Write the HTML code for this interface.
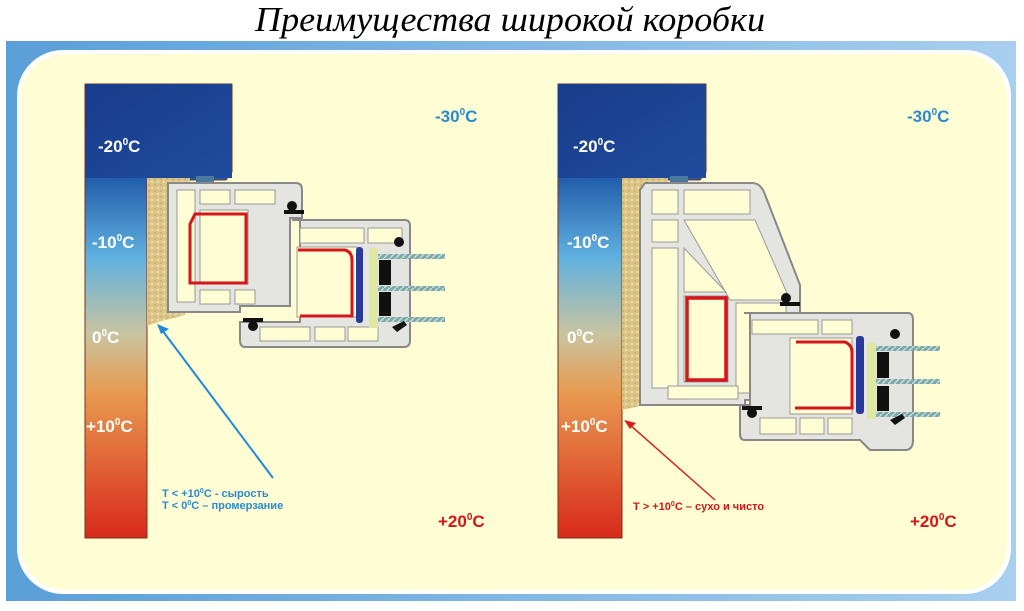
<!DOCTYPE html>
<html><head><meta charset="utf-8"><style>
html,body{margin:0;padding:0;background:#fff;width:1024px;height:611px;overflow:hidden}
svg{display:block}
.t{font-family:"Liberation Sans",sans-serif;font-weight:bold}
</style></head><body>
<svg width="1024" height="611" viewBox="0 0 1024 611" xmlns="http://www.w3.org/2000/svg">
<defs>
<linearGradient id="wall" x1="0" y1="0" x2="0" y2="1">
<stop offset="0" stop-color="#1a3a8a"/>
<stop offset="0.2" stop-color="#1f5aa8"/>
<stop offset="0.38" stop-color="#5fb0e0"/>
<stop offset="0.55" stop-color="#c8c4a0"/>
<stop offset="0.68" stop-color="#e89a50"/>
<stop offset="1" stop-color="#d82a1a"/>
</linearGradient>
<linearGradient id="top" x1="0" y1="0" x2="1" y2="1">
<stop offset="0" stop-color="#1a3c8c"/><stop offset="1" stop-color="#1e4c9c"/>
</linearGradient>
<linearGradient id="bg" x1="0" y1="0" x2="1" y2="0">
<stop offset="0" stop-color="#5a9fd8"/><stop offset="1" stop-color="#a8cfee"/>
</linearGradient>
<pattern id="foam" width="6" height="6" patternUnits="userSpaceOnUse">
<rect width="6" height="6" fill="#dcc488"/><circle cx="2" cy="2" r="1.2" fill="#ecdcaa"/><circle cx="5" cy="5" r="0.9" fill="#c4a860"/>
</pattern>
<pattern id="glass" width="6" height="6" patternUnits="userSpaceOnUse">
<rect width="6" height="6" fill="#7fa8a8"/><path d="M0 6L6 0" stroke="#c8e0e0" stroke-width="1.5"/>
</pattern>
</defs>
<text x="255" y="31" textLength="510" lengthAdjust="spacingAndGlyphs" font-family="Liberation Serif,serif" font-style="italic" font-size="35" fill="#000">Преимущества широкой коробки</text>
<rect x="6" y="41" width="1010" height="560" fill="url(#bg)"/>
<rect x="17" y="50" width="994" height="544" rx="46" fill="#fff"/>
<rect x="21" y="54" width="986" height="536" rx="44" fill="#fffdd4"/>

<!-- LEFT -->
<g>
<path d="M85 84H232V172L226 180H147V538H85Z" fill="url(#wall)" stroke="#7a3020" stroke-width="1"/>
<rect x="85" y="84" width="147" height="94" fill="url(#top)"/>
<path d="M147 178H190L185 315L158 322L147 326Z" fill="url(#foam)"/>
<rect x="196" y="176" width="18" height="8" fill="#4a7aa0"/>
<path d="M168 183H296Q302 183 302 190V218H290V306H240V312H168Z" fill="#e4e4e0" stroke="#888" stroke-width="2"/>
<rect x="177" y="190" width="18" height="112" fill="#fffdd4" stroke="#999"/>
<rect x="200" y="190" width="30" height="14" fill="#fffdd4" stroke="#999"/>
<rect x="235" y="190" width="40" height="14" fill="#fffdd4" stroke="#999"/>
<rect x="200" y="290" width="30" height="14" fill="#fffdd4" stroke="#999"/>
<rect x="235" y="290" width="20" height="14" fill="#fffdd4" stroke="#999"/>
<rect x="200" y="210" width="48" height="74" fill="#fffdd4" stroke="#999"/>
<path d="M190 224L195 214H246V283H190Z" fill="none" stroke="#d4151a" stroke-width="3"/>
<path d="M292 220H405Q410 220 410 226V340Q410 347 404 347H245Q240 347 240 340V322H300V220Z" fill="#e4e4e0" stroke="#888" stroke-width="2"/>
<rect x="300" y="228" width="64" height="15" fill="#fffdd4" stroke="#999"/>
<rect x="368" y="228" width="34" height="15" fill="#fffdd4" stroke="#999"/>
<rect x="297" y="247" width="60" height="70" fill="#fffdd4" stroke="#999"/>
<path d="M298 250H345Q352 252 352 260V316H300" fill="none" stroke="#d4151a" stroke-width="3"/>
<rect x="260" y="327" width="50" height="14" fill="#fffdd4" stroke="#999"/>
<rect x="315" y="327" width="30" height="14" fill="#fffdd4" stroke="#999"/>
<rect x="348" y="327" width="30" height="14" fill="#fffdd4" stroke="#999"/>
<rect x="356" y="247" width="7" height="76" rx="3" fill="#2a3a9a"/>
<rect x="369" y="248" width="9" height="80" fill="#dfe8a0"/>
<rect x="378" y="254" width="67" height="5" fill="url(#glass)"/>
<rect x="378" y="286" width="67" height="5" fill="url(#glass)"/>
<rect x="378" y="317" width="67" height="5" fill="url(#glass)"/>
<rect x="379" y="260" width="12" height="25" fill="#111"/>
<rect x="379" y="292" width="12" height="24" fill="#111"/>
<g fill="#111"><circle cx="292" cy="206" r="5"/><rect x="284" y="210" width="20" height="4"/><circle cx="399" cy="242" r="5"/><circle cx="253" cy="326" r="5"/><rect x="243" y="318" width="20" height="4"/><path d="M392 327l12-6 3 4-10 7z"/></g>
<line x1="273" y1="478" x2="162" y2="330" stroke="#1f88d8" stroke-width="2"/>
<path d="M157 324l12 5-8 5z" fill="#1f88d8"/>
<text class="t" x="162" y="497" font-size="11" fill="#2a8ad0">T &lt; +10<tspan font-size="7" dy="-4">0</tspan><tspan dy="4">C - сырость</tspan></text>
<text class="t" x="162" y="509" font-size="11" fill="#2a8ad0">T &lt; 0<tspan font-size="7" dy="-4">0</tspan><tspan dy="4">C – промерзание</tspan></text>
<g class="t" fill="#fff" font-size="17">
<text x="98" y="152">-20<tspan font-size="10" dy="-7">0</tspan><tspan dy="7">C</tspan></text>
<text x="92" y="248">-10<tspan font-size="10" dy="-7">0</tspan><tspan dy="7">C</tspan></text>
<text x="92" y="343">0<tspan font-size="10" dy="-7">0</tspan><tspan dy="7">C</tspan></text>
<text x="86" y="432">+10<tspan font-size="10" dy="-7">0</tspan><tspan dy="7">C</tspan></text>
</g>
<text class="t" x="435" y="122" font-size="17" fill="#2a8ad0">-30<tspan font-size="10" dy="-7">0</tspan><tspan dy="7">C</tspan></text>
<text class="t" x="438" y="527" font-size="17" fill="#d4151a">+20<tspan font-size="10" dy="-7">0</tspan><tspan dy="7">C</tspan></text>
</g>

<!-- RIGHT -->
<g>
<path d="M558 84H706V172L700 180H622V538H558Z" fill="url(#wall)" stroke="#7a3020" stroke-width="1"/>
<rect x="558" y="84" width="148" height="94" fill="url(#top)"/>
<path d="M622 178H668L660 402L640 406L622 410Z" fill="url(#foam)"/>
<rect x="670" y="176" width="18" height="8" fill="#4a7aa0"/>
<path d="M645 183H752Q760 183 764 192L800 285V313H790V400H745V405H640V190Z" fill="#e4e4e0" stroke="#888" stroke-width="2"/>
<rect x="652" y="190" width="26" height="24" fill="#fffdd4" stroke="#999"/>
<rect x="684" y="190" width="66" height="24" fill="#fffdd4" stroke="#999"/>
<rect x="652" y="220" width="26" height="22" fill="#fffdd4" stroke="#999"/>
<path d="M684 220H755L790 300H730Z" fill="#fffdd4" stroke="#999"/>
<rect x="652" y="248" width="26" height="140" fill="#fffdd4" stroke="#999"/>
<path d="M684 248V292H726L684 248Z" fill="#fffdd4" stroke="#999"/>
<rect x="684" y="296" width="44" height="86" fill="#fffdd4" stroke="#999"/>
<rect x="736" y="303" width="50" height="90" fill="#fffdd4" stroke="#999"/>
<rect x="668" y="386" width="70" height="13" fill="#fffdd4" stroke="#999"/>
<rect x="687" y="298" width="39" height="82" fill="none" stroke="#d4151a" stroke-width="3.5"/>
<path d="M744 313H908Q913 313 913 320V440Q913 450 905 450H870L860 440H745Q740 440 740 434V405H750V313Z" fill="#e4e4e0" stroke="#888" stroke-width="2"/>
<rect x="752" y="320" width="66" height="14" fill="#fffdd4" stroke="#999"/>
<rect x="822" y="320" width="30" height="14" fill="#fffdd4" stroke="#999"/>
<rect x="790" y="338" width="62" height="76" fill="#fffdd4" stroke="#999"/>
<path d="M796 342H845Q852 345 852 352V408H795" fill="none" stroke="#d4151a" stroke-width="3"/>
<rect x="760" y="418" width="36" height="16" fill="#fffdd4" stroke="#999"/>
<rect x="800" y="418" width="24" height="16" fill="#fffdd4" stroke="#999"/>
<rect x="828" y="418" width="24" height="16" fill="#fffdd4" stroke="#999"/>
<rect x="856" y="336" width="8" height="78" rx="3" fill="#2a3a9a"/>
<rect x="867" y="343" width="9" height="76" fill="#dfe8a0"/>
<rect x="876" y="346" width="64" height="5" fill="url(#glass)"/>
<rect x="876" y="379" width="64" height="5" fill="url(#glass)"/>
<rect x="876" y="412" width="64" height="5" fill="url(#glass)"/>
<rect x="877" y="352" width="12" height="26" fill="#111"/>
<rect x="877" y="386" width="12" height="25" fill="#111"/>
<g fill="#111"><circle cx="786" cy="298" r="5"/><rect x="780" y="302" width="20" height="4"/><circle cx="895" cy="334" r="5"/><circle cx="752" cy="413" r="5"/><rect x="742" y="406" width="20" height="4"/><path d="M890 420l12-6 3 4-10 7z"/></g>
<line x1="715" y1="500" x2="630" y2="425" stroke="#d42020" stroke-width="1.5"/>
<path d="M624 420l12 3-6 6z" fill="#d42020"/>
<text class="t" x="633" y="510" font-size="11" fill="#d4151a">T &gt; +10<tspan font-size="7" dy="-4">0</tspan><tspan dy="4">C – сухо и чисто</tspan></text>
<g class="t" fill="#fff" font-size="17">
<text x="573" y="152">-20<tspan font-size="10" dy="-7">0</tspan><tspan dy="7">C</tspan></text>
<text x="567" y="248">-10<tspan font-size="10" dy="-7">0</tspan><tspan dy="7">C</tspan></text>
<text x="567" y="343">0<tspan font-size="10" dy="-7">0</tspan><tspan dy="7">C</tspan></text>
<text x="561" y="432">+10<tspan font-size="10" dy="-7">0</tspan><tspan dy="7">C</tspan></text>
</g>
<text class="t" x="907" y="122" font-size="17" fill="#2a8ad0">-30<tspan font-size="10" dy="-7">0</tspan><tspan dy="7">C</tspan></text>
<text class="t" x="910" y="527" font-size="17" fill="#d4151a">+20<tspan font-size="10" dy="-7">0</tspan><tspan dy="7">C</tspan></text>
</g>
</svg>
</body></html>
